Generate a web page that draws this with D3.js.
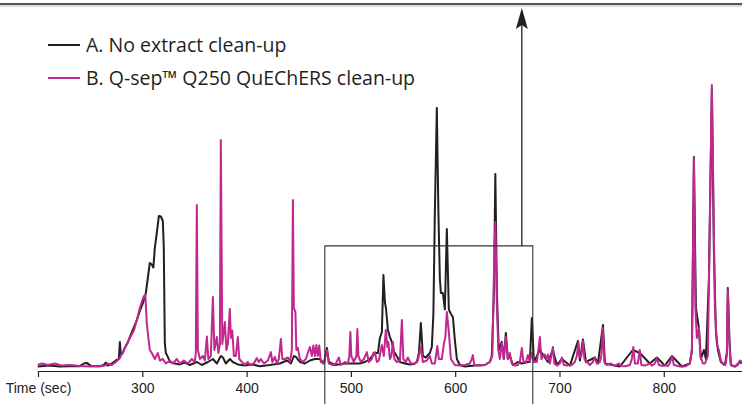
<!DOCTYPE html>
<html><head><meta charset="utf-8">
<script src="https://cdn.jsdelivr.net/npm/d3@7"></script>
<style>body{margin:0;background:#fff} svg{display:block}</style>
</head><body><svg id="c" width="742" height="404"></svg>
<script>
// Series A: No extract clean-up  [time (sec), relative intensity]
const seriesA = [[199.8,0.5],[211.3,0.8],[220.9,0.5],[230.5,0.6],[240.1,0.6],[244,1.5],[246.8,1.7],[250.7,0.7],[259.3,0.6],[263.1,1],[265,1.8],[267,0.8],[270.8,1.5],[274.6,2.5],[277.5,3],[278.5,8.7],[279.4,4.5],[281.3,5],[283.2,6.7],[286.1,8.5],[288,10.3],[291.9,13.5],[294.8,16],[297.6,19],[300.5,21.5],[303.4,25],[307.2,35],[309.1,34.5],[310.6,33.5],[312,40],[313.9,45],[315.9,50.7],[317.8,50.5],[319.7,49],[320.6,40],[321.6,8.3],[322.6,5],[324.5,3.7],[326.4,2],[331.2,1.5],[336,1.2],[340.8,1.8],[345.6,1],[352.3,2],[357.1,1],[362.9,2],[367.7,3],[371.5,1.5],[375.3,4],[377.3,3.5],[380.1,1.5],[384,3],[386.8,2],[391.6,1.2],[398.3,0.8],[405,1.2],[412.7,0.6],[422.3,1],[431.9,1.5],[438.6,2.5],[442.5,1.5],[445.3,4],[447.3,3.7],[451.1,2],[455.9,1.5],[460.7,2.5],[465.5,3],[470.2,3],[474.1,1.5],[477,6.7],[478.9,2],[484.6,1],[494.2,1.5],[503.8,1.5],[508.6,1.5],[513.4,2],[518.2,3],[523,5],[525.9,5],[527.8,10],[529.7,12],[531.2,31],[532.6,22],[533.6,20],[535.5,12.7],[537.4,10.3],[539.3,8.7],[541.2,5.5],[543.1,4.5],[547,2],[551.8,1.5],[556.6,1.2],[560.4,1.3],[563.3,2],[565.2,5],[567.1,15],[569,4],[571.9,3.5],[575.7,5],[577.6,7],[579.1,18],[580.5,51.7],[582.4,86.7],[583.9,52],[585.3,30],[586.3,25],[588.2,25],[590.1,19.5],[592,46.3],[593.9,19.5],[595.9,18],[597.8,17],[599.7,9.3],[601.6,3],[604.5,1],[609.3,0.5],[618.9,0.8],[628.5,1],[633.2,2],[635.1,4],[637.1,25],[638.5,64.7],[640,25],[641.8,6],[644.7,8.7],[646.6,3],[648.6,11.7],[650.5,3],[652.4,4],[655.3,1],[660.1,2],[663.9,1.5],[669.7,2],[671.6,2],[673.5,16.7],[675.5,2],[681.2,6],[688.9,2],[693.7,6],[697.5,1],[702.3,3],[710,0.8],[717.7,9],[719.6,2.5],[722.5,9.5],[725.4,2],[734,3.5],[736.9,1.5],[741.7,14.3],[743.6,1.5],[753.1,0.8],[757.9,0.5],[770.3,6],[777,5],[786.6,1.5],[793.4,3.5],[801,0.8],[807.8,4],[817.4,0.5],[825,1.5],[827,6],[828.9,70.3],[830.8,20],[833.7,13.3],[835.6,3],[838.5,6],[840.4,3],[843.3,30],[846.1,93],[848,40],[850,12],[851.9,6],[854.7,2],[858.6,1],[860.5,5],[861.4,26.7],[862.9,10],[864.3,1],[868.2,0.5],[873,2],[874.9,1.5]];

// Series B: Q-sep Q250 QuEChERS clean-up
const seriesB = [[199.8,1],[203.7,1.5],[209.4,1],[216.1,1.5],[222.9,0.8],[230.5,1],[240.1,0.7],[249.7,0.5],[259.3,0.6],[264.1,0.8],[267,1.5],[270.8,1],[274.6,2],[278.5,3.3],[283.2,6.7],[288,10],[291.9,12.5],[294.8,16],[297.6,20],[299.5,22],[301.5,24],[302.9,24.3],[304.3,15],[305.8,10],[307.2,6],[309.1,5],[312,3],[314.9,5],[316.8,2.5],[319.7,3],[322.6,1.5],[326.4,2.5],[329.3,1.5],[333.1,3],[336,1.5],[339.8,2.5],[343.7,1.5],[347.5,3],[350.4,2],[351.3,5],[352.3,54.3],[353.3,6],[355.2,3],[358.1,4],[360,2.5],[361.9,10.5],[363.3,3],[365.7,4],[367.7,23.7],[369.1,6],[371.5,10.3],[372.9,5],[374.4,8],[375.3,76],[376.7,8],[379.2,15.3],[380.6,6],[382,8],[383.9,19.7],[384.9,10],[386.3,12.5],[387.8,4],[389.7,4],[391.6,10.3],[393,3],[395.5,2],[398.3,1],[401.2,2],[403.1,1],[407,1.5],[409.8,3.3],[411.8,2],[413.7,3],[416.6,1.5],[420.4,2.5],[423.3,5.3],[424.7,2],[427.1,3.7],[429,1.5],[430.9,3],[432.9,9.7],[434.3,3],[436.7,3],[439.6,3.5],[441.5,2],[443.4,6],[444.4,56],[445.3,20],[446.8,18.7],[447.7,6],[449.1,6.7],[451.1,3],[454,2],[456.8,3],[458.7,5],[460.7,7],[462.6,4],[464,7.5],[465.5,4],[466.9,7.7],[468.3,4],[469.7,7.5],[471.2,2],[474.1,1.5],[477,6],[478.9,1.5],[482.7,1],[485.6,1.5],[488.5,3.5],[490.4,1],[494.2,2],[497.1,1.5],[498.5,4],[499.5,12],[500.4,4],[502.8,2],[505.3,4],[506.2,13],[507.2,4],[509.6,2],[512.5,3],[515.3,5.3],[517.2,2],[520.1,3],[521.5,5],[523,5.3],[524.9,2],[526.8,2.5],[529.7,7.7],[531.6,4],[533.5,12.7],[535,7],[535.9,8.7],[537.4,3],[538.8,4],[540.3,8.7],[541.7,3],[544.1,2],[547,2.5],[548.9,16],[550.3,3],[552.7,2],[554.6,3.5],[557.5,1.5],[561.3,1.5],[564.2,2.5],[567.1,7],[569,2],[572.8,2.5],[575.7,4],[577.6,1.5],[580.5,1.5],[582.9,7.3],[584.3,3],[587.2,3],[589.1,8],[590.6,10.3],[592,18.7],[593.9,12],[595.9,3],[599.7,1],[604.5,0.8],[609.3,1],[614,1.5],[616,3],[616.9,4.3],[618.4,1],[623.6,0.8],[628.5,1],[633.2,2],[635.6,4],[637.1,30],[638.5,48.7],[640,20],[641.4,6],[642.8,3],[644.7,8.3],[646.6,3],[648.6,10.3],[650.5,3],[652.4,5],[654.3,1.5],[657.2,0.8],[660.1,1],[662,2],[663.9,6.7],[665.4,2],[667.8,2],[669.7,4.3],[671.6,2],[673.5,5],[675.5,2],[678.3,2],[681.2,10.3],[682.7,3],[684.1,4],[686,4.5],[687.5,3],[688.9,4.5],[690.8,1.5],[693.7,7],[695.1,1.5],[697.5,0.8],[700.4,1.5],[702.3,3.5],[704.2,1],[707,0.8],[711.8,1],[714.7,2],[716.6,4],[718.1,8.5],[719.5,3.5],[721,4],[722.5,9],[723.9,3],[726.3,2],[729.1,1],[732,2],[733.9,3.5],[735.8,1.5],[738.7,2],[740.1,4],[741.5,13.3],[743,2],[745.4,1],[749.2,1.5],[753.1,0.7],[756.9,1.5],[758.9,0.7],[762.6,0.6],[767.5,1],[769.4,3],[770.8,7],[772.3,1.5],[775.1,1.5],[777,6],[778.5,1],[781.8,0.8],[786.6,1.5],[788.5,0.8],[791.4,1.5],[793.3,3.3],[795.3,1],[799.1,0.7],[802,1],[803.9,0.6],[805.8,1.5],[807.8,4],[809.7,1],[815.4,0.5],[821.2,0.6],[825,1.5],[827,6],[828.9,70],[830.3,20],[831.7,10],[833.7,13.3],[835.1,4],[837.5,1.5],[839.4,1.5],[842.3,4],[844.2,50],[846.1,94.3],[847.5,60],[849,20],[850.9,8],[852.8,6],[854.7,2.5],[857.6,1],[859.5,1.5],[860.5,5],[861.4,26],[862.9,8],[864.3,1],[868.2,0.5],[871,1],[873,2.5],[874.9,2]];

const tickValues = [200, 300, 400, 500, 600, 700, 800];
const tickLabels = ["Time (sec)", "300", "400", "500", "600", "700", "800"];
const legendLabels = ["A. No extract clean-up", "B. Q-sep\u2122 Q250 QuEChERS clean-up"];
const seriesColors = ["#231f20", "#c1278f"];
const zoomBox = [475, 674.4, 40.7];   // start time, end time, top intensity
const arrowTime = 663.9;

const svg = d3.select("#c");
const x = d3.scaleLinear().domain([200, 875]).range([38, 742]);
const y = d3.scaleLinear().domain([0, 100]).range([368, 68]);

// top rule
svg.append("line").attr("x1", 0).attr("x2", 742).attr("y1", 4).attr("y2", 4)
  .attr("stroke", "#555").attr("stroke-width", 2);
svg.append("line").attr("x1", 0).attr("x2", 742).attr("y1", 6).attr("y2", 6)
  .attr("stroke", "#bbb").attr("stroke-width", 1);

const line = d3.line().x(d => x(d[0])).y(d => y(d[1]));

svg.append("path").datum(seriesA).attr("d", line)
  .attr("fill", "none").attr("stroke", seriesColors[0]).attr("stroke-width", 2)
  .attr("stroke-linejoin", "round");
svg.append("path").datum(seriesB).attr("d", line)
  .attr("fill", "none").attr("stroke", seriesColors[1]).attr("stroke-width", 2)
  .attr("stroke-linejoin", "round");

// zoom box (open at bottom)
const bx0 = x(zoomBox[0]), bx1 = x(zoomBox[1]), by = y(zoomBox[2]);
svg.append("path")
  .attr("d", `M${bx0},404 L${bx0},${by} L${bx1},${by} L${bx1},404`)
  .attr("fill", "none").attr("stroke", "#333").attr("stroke-width", 1.1);

// arrow
const ax = x(arrowTime);
svg.append("line").attr("x1", ax).attr("x2", ax).attr("y1", by).attr("y2", 22)
  .attr("stroke", "#222").attr("stroke-width", 1.3);
svg.append("path").attr("d", `M${ax},8 L${ax-6},29 L${ax},25 L${ax+6},29 Z`)
  .attr("fill", "#222");

// axis
const axis = d3.axisBottom(x).tickValues(tickValues)
  .tickFormat((d, i) => tickLabels[i]).tickSize(6).tickSizeOuter(0);
const g = svg.append("g").attr("transform", "translate(0,371)").call(axis);
g.select(".domain").attr("stroke", "#222").attr("stroke-width", 1.2);
g.selectAll(".tick line").attr("stroke", "#222").attr("stroke-width", 1.2);
g.selectAll(".tick text").attr("fill", "#222")
  .attr("font-family", "'Liberation Sans Narrow', 'Liberation Sans', sans-serif")
  .attr("font-size", 14).attr("dy", "0.9em");

// legend
const leg = svg.append("g");
legendLabels.forEach((lab, i) => {
  const ly = 45 + i * 33;
  leg.append("line").attr("x1", 48).attr("x2", 80).attr("y1", ly).attr("y2", ly)
    .attr("stroke", seriesColors[i]).attr("stroke-width", 2);
  leg.append("text").attr("x", 86).attr("y", ly + 7)
    .attr("font-family", "'Open Sans', sans-serif").attr("font-size", 19.5)
    .attr("fill", "#231f20").text(lab);
});
</script></body></html>
